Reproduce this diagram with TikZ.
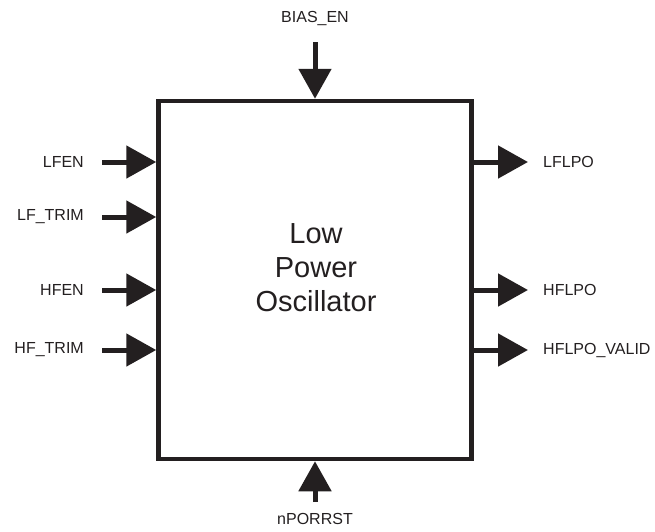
\documentclass[tikz,border=0pt]{standalone}
\usepackage{fontspec}
\setmainfont{Liberation Sans}
\usetikzlibrary{arrows.meta, positioning, calc}
\definecolor{inkcolor}{RGB}{35, 31, 32}
\tikzset{
  sig/.style={line width=5pt, draw=inkcolor, -{Triangle[length=30pt,width=32pt]}},
  pin/.style={font=\fontsize{16}{19}\selectfont, text=inkcolor, inner sep=0pt}
}

\begin{document}
\begin{tikzpicture}[x=1pt,y=-1pt]
\useasboundingbox (0,0) rectangle (655,531);
\node[draw=inkcolor, line width=4.5pt, minimum width=313pt, minimum height=358pt] (osc) at (315,280) {};
\node[align=center, text=inkcolor, font=\fontsize{29}{34}\selectfont] (title) at (316,268)
      {Low\\Power\\Oscillator};
% inputs on the left
\foreach \y/\name/\txt in {162/lfen/LFEN, 217/lftrim/LF\_TRIM, 290/hfen/HFEN, 350/hftrim/HF\_TRIM} {
  \node[pin, anchor=east] (\name) at (84,\y) {\txt};
  \coordinate (\name S) at (102,\y);
  \draw[sig] (\name S) -- (osc.west |- \name S);
}
% outputs on the right
\foreach \y/\name/\txt in {162/lflpo/LFLPO, 290/hflpo/HFLPO, 350/valid/HFLPO\_VALID} {
  \node[pin, anchor=west] (\name) at (543,\y) {\txt};
  \coordinate (\name E) at (528,\y);
  \draw[sig] (osc.east |- \name E) -- (\name E);
}
% top and bottom
\node[pin] (bias) at (315,18) {BIAS\_EN};
\coordinate (biasS) at (315,42);
\draw[sig] (biasS) -- (osc.north);
\node[pin] (por) at (315,519) {nPORRST};
\coordinate (porS) at (315,502);
\draw[sig] (porS) -- (osc.south);
\end{tikzpicture}
\end{document}
